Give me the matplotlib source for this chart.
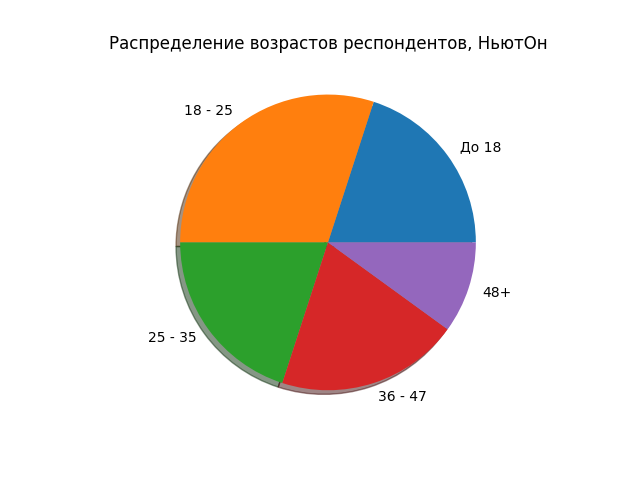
import matplotlib
matplotlib.use("Agg")
import matplotlib.pyplot as plt

labels = ["До 18", "18 - 25", "25 - 35", "36 - 47", "48+"]
values = [2, 3, 2, 2, 1]

fig, ax = plt.subplots(figsize=(6.4, 4.8), dpi=100)
ax.pie(values, labels=labels, shadow=True)
ax.set_title("Распределение возрастов респондентов, НьютОн")
fig.savefig("out.png")
